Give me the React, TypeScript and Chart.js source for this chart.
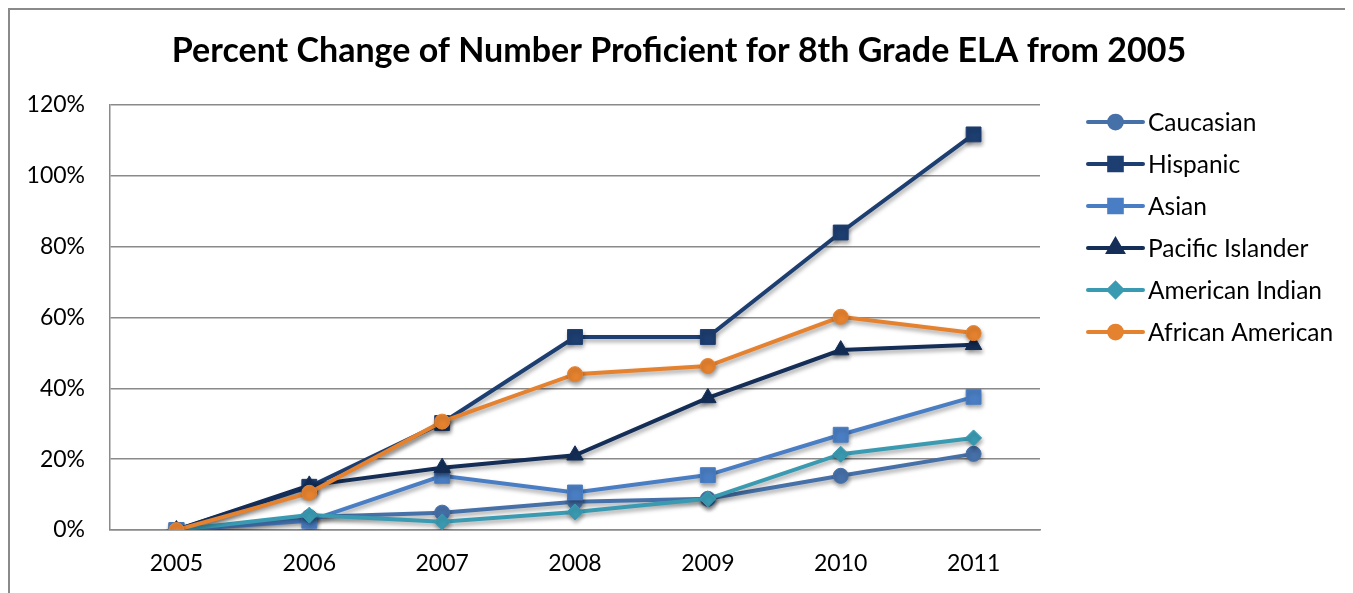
import React, { useEffect, useRef } from 'react';
import { Chart, registerables } from 'chart.js';
import { drawPoint } from 'chart.js/helpers';

Chart.register(...registerables);

const titleText = 'Percent Change of Number Proficient for 8th Grade ELA from 2005';
const categories = ['2005', '2006', '2007', '2008', '2009', '2010', '2011'];
const yTicks = [0, 20, 40, 60, 80, 100, 120];

const seriesNames = ['Caucasian', 'Hispanic', 'Asian', 'Pacific Islander', 'American Indian', 'African American'];
const caucasian = [0, 3.7, 4.9, 8.0, 8.8, 15.3, 21.5];
const hispanic = [0, 12.2, 30.2, 54.5, 54.5, 84.0, 111.7];
const asian = [0, 2.6, 15.3, 10.6, 15.5, 26.9, 37.6];
const pacificIslander = [0, 12.6, 17.6, 21.1, 37.3, 50.8, 52.3];
const americanIndian = [0, 4.2, 2.3, 5.1, 8.8, 21.4, 26.0];
const africanAmerican = [0, 10.5, 30.6, 44.0, 46.3, 60.2, 55.6];

const seriesValues = [caucasian, hispanic, asian, pacificIslander, americanIndian, africanAmerican];
const seriesColors = ['#4670A8', '#1D3E70', '#4A7EC4', '#142E57', '#3A9AB1', '#E5822F'];
const seriesMarkers = ['circle', 'rect', 'rect', 'triangle', 'rectRot', 'circle'];
const seriesRadius = [7.5, 10.5, 10.5, 9.5, 8, 7.5];

const FONT = 'Lato, "Open Sans", sans-serif';
const GRID = '#8a8a8a';

const shadowPlugin = {
  id: 'shadowPlugin',
  beforeDatasetsDraw(chart: any) {
    const ctx = chart.ctx;
    ctx.save();
    ctx.shadowColor = 'rgba(0,0,0,0.35)';
    ctx.shadowBlur = 4;
    ctx.shadowOffsetX = 1;
    ctx.shadowOffsetY = 3;
  },
  afterDatasetsDraw(chart: any) {
    chart.ctx.restore();
  },
};

const titleLegendPlugin = {
  id: 'titleLegendPlugin',
  afterDraw(chart: any) {
    const ctx = chart.ctx;
    const area = chart.chartArea;
    ctx.save();
    ctx.fillStyle = '#000';
    ctx.font = `bold 34px ${FONT}`;
    ctx.textAlign = 'center';
    ctx.textBaseline = 'alphabetic';
    ctx.fillText(titleText, chart.width / 2, 52);

    ctx.font = `24.5px ${FONT}`;
    ctx.textAlign = 'left';
    ctx.textBaseline = 'middle';
    const x0 = area.right + 48;
    const lineLen = 55;
    chart.data.datasets.forEach((ds: any, i: number) => {
      const y = area.top + 17 + i * 42;
      ctx.strokeStyle = ds.borderColor;
      ctx.lineWidth = 4;
      ctx.lineCap = 'round';
      ctx.beginPath();
      ctx.moveTo(x0, y);
      ctx.lineTo(x0 + lineLen, y);
      ctx.stroke();
      ctx.fillStyle = ds.pointBackgroundColor;
      ctx.strokeStyle = ds.pointBorderColor;
      drawPoint(ctx, { pointStyle: ds.pointStyle, radius: ds.pointRadius * 0.85, rotation: 0, borderWidth: 1 }, x0 + lineLen / 2, y);
      ctx.fillStyle = '#000';
      ctx.fillText(ds.label, x0 + lineLen + 5, y + 1);
    });
    ctx.restore();
  },
};

export default function App() {
  const ref = useRef<HTMLCanvasElement | null>(null);
  useEffect(() => {
    if (!ref.current) return;
    const datasets = seriesNames.map((name, i) => ({
      label: name,
      data: seriesValues[i],
      borderColor: seriesColors[i],
      backgroundColor: seriesColors[i],
      pointBackgroundColor: seriesColors[i],
      pointBorderColor: seriesColors[i],
      pointBorderWidth: 1,
      pointStyle: seriesMarkers[i],
      pointRadius: seriesRadius[i],
      borderWidth: 4,
      tension: 0,
      order: seriesNames.length - i,
    }));
    const chart = new Chart(ref.current, {
      type: 'line',
      data: { labels: categories, datasets },
      plugins: [shadowPlugin, titleLegendPlugin],
      options: {
        animation: false,
        responsive: false,
        maintainAspectRatio: false,
        layout: { padding: { top: 95, right: 308, left: 0, bottom: 0 } },
        plugins: { legend: { display: false }, title: { display: false }, tooltip: { enabled: false } },
        scales: {
          x: {
            offset: true,
            grid: { display: false, drawTicks: false },
            border: { display: true, color: GRID, width: 1.5 },
            ticks: { color: '#000', font: { family: FONT, size: 23 }, padding: 20, maxRotation: 0 },
            afterFit(scale: any) { scale.height = 63; },
          },
          y: {
            min: 0,
            max: 120,
            afterBuildTicks(scale: any) { scale.ticks = yTicks.map((v) => ({ value: v })); },
            grid: { color: GRID, lineWidth: 1.5, drawTicks: false },
            border: { display: true, color: GRID, width: 1.5 },
            ticks: { color: '#000', font: { family: FONT, size: 23 }, padding: 25, callback: (v: any) => `${v}%` },
            afterFit(scale: any) { scale.width = 100; },
          },
        },
      },
    } as any);
    return () => chart.destroy();
  }, []);
  return (
    <div style={{ width: 1338, height: 583, border: `2px solid ${GRID}`, borderBottom: 'none', background: '#fff' }}>
      <canvas ref={ref} width={1338} height={583} style={{ display: 'block' }} />
    </div>
  );
}
